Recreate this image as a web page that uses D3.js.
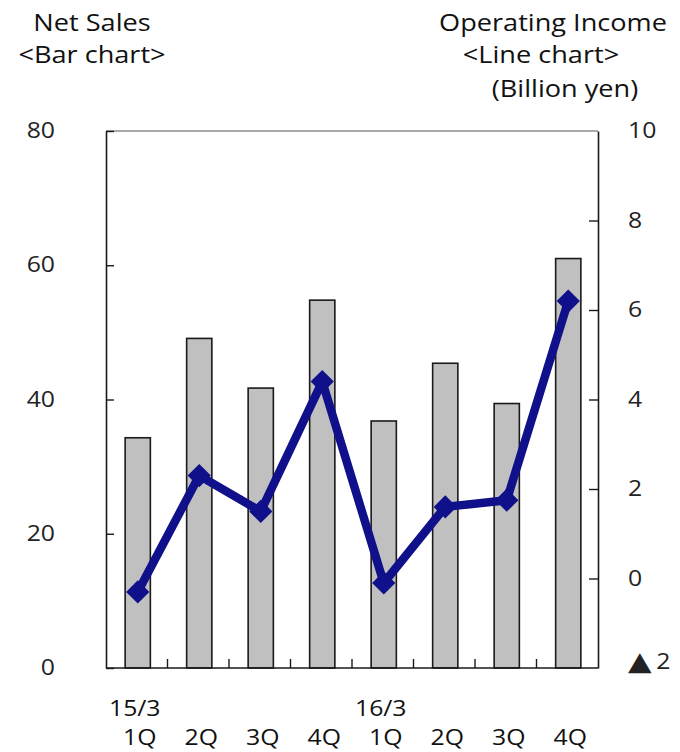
<!DOCTYPE html>
<html>
<head>
<meta charset="utf-8">
<script src="https://cdn.jsdelivr.net/npm/d3@7"></script>
<style>
  body { margin: 0; background: #fff; }
  text { font-family: "Open Sans", "DejaVu Sans", sans-serif; }
</style>
</head>
<body>
<div id="chart-area"></div>
<script>
// quarters, two fiscal years
const quarters = ["1Q", "2Q", "3Q", "4Q", "1Q", "2Q", "3Q", "4Q"];
const yearLabels = ["15/3", "", "", "", "16/3", "", "", ""];
const netSales = [34.3, 49.1, 41.7, 54.8, 36.8, 45.4, 39.4, 61.0];
const opIncome = [-0.3, 2.3, 1.5, 4.4, -0.1, 1.6, 1.75, 6.2];
const leftTicks = [0, 20, 40, 60, 80];
const rightTicks = [-2, 0, 2, 4, 6, 8, 10];

const SX = 1.18; // picture is a bit stretched sideways

const svg = d3.select("#chart-area").append("svg")
  .attr("width", 680)
  .attr("height", 752);

const pLeft = 106, pRight = 598, pTop = 131, pBottom = 668;

const x = d3.scaleBand().domain(d3.range(quarters.length)).range([pLeft, pRight]).padding(0);
const yL = d3.scaleLinear().domain([0, 80]).range([pBottom, pTop]);
const yR = d3.scaleLinear().domain([-2, 10]).range([pBottom, pTop]);

function label(txt, px, py, size, anchor) {
  svg.append("text")
    .attr("transform", "translate(" + px + "," + py + ") scale(" + SX + ",1)")
    .attr("text-anchor", anchor || "middle")
    .attr("font-size", size)
    .attr("fill", "#111")
    .text(txt);
}

// titles
label("Net Sales", 92, 31, 23);
label("<Bar chart>", 92, 63, 23);
label("Operating Income", 553, 31, 23);
label("<Line chart>", 541, 63, 23);
label("(Billion yen)", 565, 97, 23);

// bars
const bw = x.bandwidth() * 0.41;
svg.append("g").selectAll("rect")
  .data(netSales).enter().append("rect")
  .attr("x", (d, i) => x(i) + x.bandwidth() / 2 - bw / 2 + 1)
  .attr("y", d => yL(d))
  .attr("width", bw)
  .attr("height", d => pBottom - yL(d))
  .attr("fill", "#c0c0c0")
  .attr("stroke", "#1a1a1a")
  .attr("stroke-width", 1.6);

// frame top
svg.append("line")
  .attr("x1", pLeft).attr("x2", pRight).attr("y1", pTop).attr("y2", pTop)
  .attr("stroke", "#555").attr("stroke-width", 1.2);

// left axis
const axisL = d3.axisLeft(yL).tickValues(leftTicks).tickSizeInner(-8).tickSizeOuter(0).tickPadding(51);
const gL = svg.append("g").attr("transform", "translate(" + pLeft + ",0)").call(axisL);

// right axis
const axisR = d3.axisRight(yR).tickValues(rightTicks).tickSizeInner(-9).tickSizeOuter(0).tickPadding(30);
const gR = svg.append("g").attr("transform", "translate(" + pRight + ",0)").call(axisR);

[gL, gR].forEach(g => {
  g.select(".domain").attr("stroke", "#1a1a1a").attr("stroke-width", 1.6);
  g.selectAll(".tick line").attr("stroke", "#1a1a1a").attr("stroke-width", 1.4);
  g.selectAll(".tick text")
    .attr("font-size", 21)
    .attr("font-family", "'Open Sans', 'DejaVu Sans', sans-serif")
    .attr("fill", "#222");
});
gL.selectAll(".tick text").attr("x", null).attr("transform", "translate(-51,0) scale(" + SX + ",1)");
gR.selectAll(".tick text").attr("x", null).attr("transform", "translate(30,0) scale(" + SX + ",1)");
gR.selectAll(".tick").filter(d => d === -2 || d === 10).select("line").remove();

// negative label: big triangle then the number
gR.selectAll(".tick text").filter(d => d < 0).each(function (d) {
  const t = d3.select(this).text("");
  t.append("tspan").attr("font-size", 26).attr("font-family", "'DejaVu Sans', sans-serif").attr("dy", "0.05em").text("\u25B2");
  t.append("tspan").attr("dx", 4).attr("dy", "-0.05em").text(Math.abs(d));
});

// bottom axis with ticks between quarters
svg.append("line")
  .attr("x1", pLeft).attr("x2", pRight).attr("y1", pBottom).attr("y2", pBottom)
  .attr("stroke", "#1a1a1a").attr("stroke-width", 1.6);
svg.append("g").selectAll("line")
  .data(d3.range(1, quarters.length)).enter().append("line")
  .attr("x1", d => x(d)).attr("x2", d => x(d))
  .attr("y1", pBottom).attr("y2", pBottom - 9)
  .attr("stroke", "#1a1a1a").attr("stroke-width", 1.4);

// category labels
quarters.forEach((q, i) => label(q, x(i) + x.bandwidth() / 2 + 3, 745, 21));
yearLabels.forEach((t, i) => { if (t) label(t, x(i) + x.bandwidth() / 2 - 2, 716, 21); });

// operating income line
const line = d3.line()
  .x((d, i) => x(i) + x.bandwidth() / 2 + 1)
  .y(d => yR(d));

svg.append("path")
  .datum(opIncome)
  .attr("d", line)
  .attr("fill", "none")
  .attr("stroke", "#10108a")
  .attr("stroke-width", 8.5)
  .attr("stroke-linejoin", "round");

svg.append("g").selectAll("path")
  .data(opIncome).enter().append("path")
  .attr("d", d3.symbol(d3.symbolSquare, 270))
  .attr("transform", (d, i) => "translate(" + (x(i) + x.bandwidth() / 2 + 1) + "," + yR(d) + ") rotate(45)")
  .attr("fill", "#10108a");
</script>
</body>
</html>
